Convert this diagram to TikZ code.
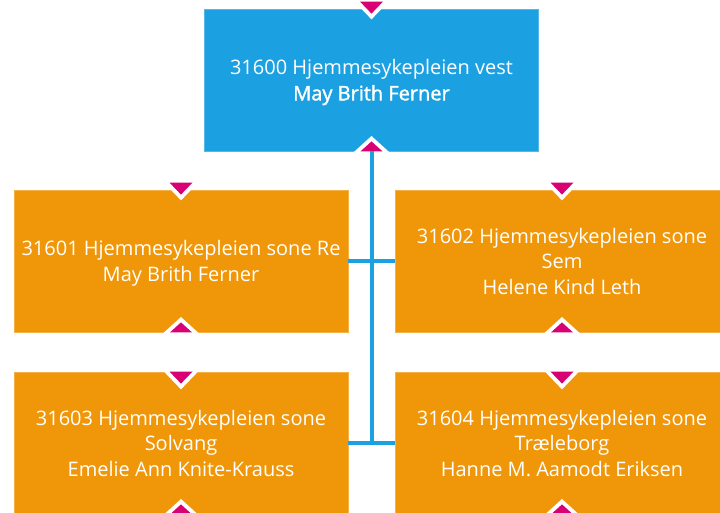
\documentclass[tikz,border=0pt]{standalone}
\usepackage{fontspec}
\setmainfont{Open Sans}
\usepackage{tikz}
\usetikzlibrary{calc}
\definecolor{unitblue}{RGB}{27,161,226}
\definecolor{unitorange}{RGB}{240,150,9}
\definecolor{handlepink}{RGB}{216,0,115}

\begin{document}
\begin{tikzpicture}[x=1pt,y=-1pt,
    unitbox/.style={minimum width=334pt, minimum height=142pt, inner sep=0pt, align=center, text=white, text depth=0pt, line width=0.8pt, font=\fontsize{20}{25.5}\selectfont},
    headbox/.style={unitbox, fill=unitblue, draw=unitblue!75!white},
    sonebox/.style={unitbox, fill=unitorange, draw=unitorange!75!white},
    handle/.style={fill=handlepink, preaction={draw=white, line width=8pt, line join=miter}},
    link/.style={draw=unitblue, line width=4pt}]
    \useasboundingbox (0,0) rectangle (720,513);
    \clip (0,0) rectangle (720,513);
    % Units
    \node[headbox] (vest) at (371.5,80) {31600 Hjemmesykepleien vest\\{\addfontfeatures{FakeBold=1.6}May Brith Ferner}};
    \node[sonebox] (re) at (181,261) {31601 Hjemmesykepleien sone Re\\May Brith Ferner};
    \node[sonebox] (sem) at (562,261) {31602 Hjemmesykepleien sone\\Sem\\Helene Kind Leth};
    \node[sonebox] (solvang) at (181,443) {31603 Hjemmesykepleien sone\\Solvang\\Emelie Ann Knite-Krauss};
    \node[sonebox] (traeleborg) at (562,443) {31604 Hjemmesykepleien sone\\Træleborg\\Hanne M. Aamodt Eriksen};
    % Handles on each unit (upper ones stick out above the top row)
    \foreach \n/\up in {vest/7,re/7,sem/7,solvang/0,traeleborg/0} {
        \path[handle] ($(\n.north)+(-11.5,-\up)$) -- ($(\n.north)+(11.5,-\up)$) -- ($(\n.north)+(0,12-\up)$) -- cycle;
        \path[handle] ($(\n.south)+(-11,0)$) -- ($(\n.south)+(11,0)$) -- ($(\n.south)+(0,-10)$) -- cycle;
    }
    % Connectors
    \draw[link] (vest.south) -- (vest.south |- solvang.east);
    \draw[link] (re.east) -- (sem.west);
    \draw[link] (solvang.east) -- (traeleborg.west);
\end{tikzpicture}
\end{document}
